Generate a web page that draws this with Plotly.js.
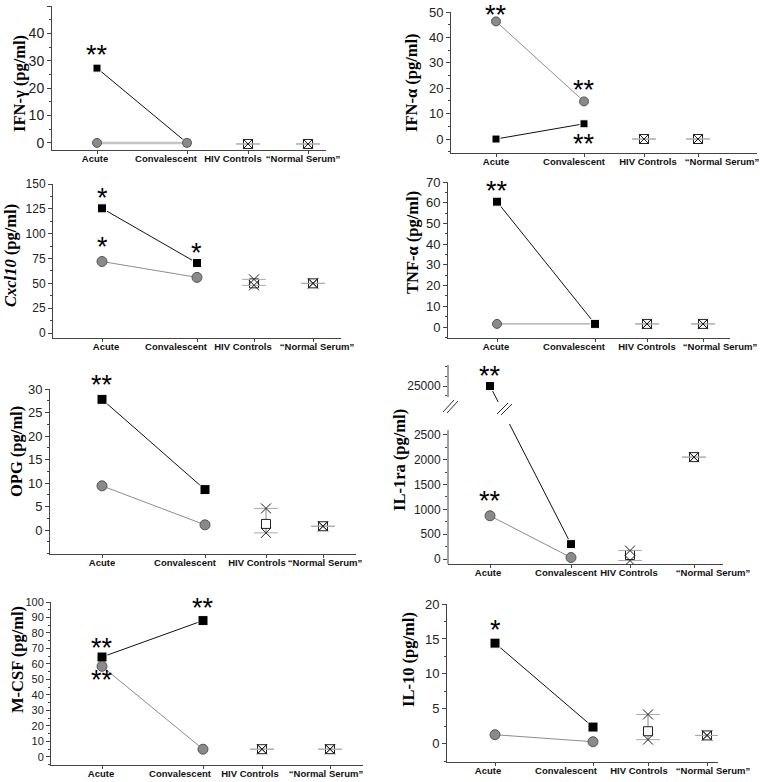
<!DOCTYPE html>
<html><head><meta charset="utf-8">
<script src="https://cdn.plot.ly/plotly-3.0.1.min.js"></script>
<style>html,body{margin:0;padding:0;background:#fff}#chart{width:760px;height:782px}</style>
</head><body><div id="chart"></div>
<script>
// ---------------- DATA ----------------
const categories = ['Acute', 'Convalescent', 'HIV Controls', '\u201cNormal Serum\u201d'];
const yTitles = ['IFN-\u03b3 (pg/ml)', 'IFN-\u03b1 (pg/ml)', '<i>Cxcl10</i> (pg/ml)', 'TNF-\u03b1 (pg/ml)',
                 'OPG (pg/ml)', 'IL-1ra (pg/ml)', 'M-CSF (pg/ml)', 'IL-10 (pg/ml)'];
// black squares: [Acute, Convalescent]
const squareVals = [[27.3, 0], [0, 6], [125.5, 70.5], [60.5, 1.5], [27.8, 8.6], [25000, 300], [64.5, 88], [14.4, 2.4]];
// grey circles: [Acute, Convalescent]
const circleVals = [[0, 0], [46.3, 14.8], [72, 56], [1.5, 1.5], [9.4, 1.1], [870, 30], [58.5, 5], [1.3, 0.3]];
// HIV controls: mean, high, low
const hivMean = [-0.4, 0, 50, 1.5, 1.3, 80, 5, 1.8];
const hivHigh = [-0.4, 0, 54, 1.5, 4.6, 170, 5, 4.2];
const hivLow  = [-0.4, 0, 48, 1.5, -0.6, -30, 5, 0.6];
// "Normal Serum"
const nsMean  = [-0.4, 0, 50, 1.5, 0.8, 2050, 5, 1.2];
// significance marks: [category index, y value, text]
const stars = [
  [[0, 33.2, '**']],
  [[0, 50.0, '**'], [1, 20.5, '**'], [1, -0.6, '**']],
  [[0, 139, '*'], [0, 90, '*'], [1, 84, '*']],
  [[0, 67, '**']],
  [[0, 31.5, '**']],
  [[0, 26300, '**'], [0, 1227, '**']],
  [[0, 72.3, '**'], [0, 51.6, '**'], [1, 98, '**']],
  [[0, 16.7, '*']]
];

// ---------------- LAYOUT CONFIG ----------------
const W = 760, H = 782;
const P = [
 {x:[52,326],  y:[6,150],   yr:[-2.6,50],  step:10,  top:50,  catX:[97,187,248,308],  labX:[95,166,233,303],  ms:[8,9],  tf:14, title:[20,84]},
 {x:[451,757], y:[12,153],  yr:[-5.5,50],  step:10,  top:50,  catX:[496,584,644,698], labX:[496,574,648,722], ms:[8,9],  tf:13, title:[411,82]},
 {x:[53,341],  y:[184,338], yr:[-5,150],   step:25,  top:150, catX:[102,197,254,313], labX:[106,176,243,317], ms:[9,10], tf:12, title:[10,256]},
 {x:[448,730], y:[182,338], yr:[-5.3,70],  step:10,  top:70,  catX:[497,595,647,703], labX:[496,574,647,720], ms:[9,9],  tf:13, title:[412,243], squareTop:true},
 {x:[50,356],  y:[389,554], yr:[-5.1,30],  step:5,   top:30,  catX:[102,205,266,323], labX:[102,185,257,325], ms:[10,10],tf:13, title:[17,452]},
 {x:[448,723], y:[365,564], yr:[-100,3903],step:500, top:2500,catX:[490,571,630,694], labX:[488,566,629,713], ms:[9,10], tf:12, title:[399,460], broken:true},
 {x:[51,363],  y:[602,765], yr:[-5.2,100], step:10,  top:100, catX:[102,203,262,330], labX:[101,180,250,326], ms:[10,10],tf:11, title:[17,660]},
 {x:[447,718], y:[604,762], yr:[-2.6,20],  step:5,   top:20,  catX:[495,593,648,707], labX:[488,566,639,713], ms:[10,10],tf:13, title:[408,660]}
];
// broken-axis transform for IL-1ra
const BRK = {limit: 2800, center: 25000, at: 3480, k: 0.2};
function tr(p, v) { if (!P[p].broken || v <= BRK.limit) return v; return BRK.at + (v - BRK.center) * BRK.k; }
const px2x = v => v / W, px2y = v => 1 - v / H;

const traces = [], annotations = [], shapes = [];
const layout = {width: W, height: H, margin: {l:0, r:0, t:0, b:0}, showlegend: false,
  paper_bgcolor: '#fff', plot_bgcolor: 'rgba(0,0,0,0)', font: {family: 'Liberation Sans, Arial, sans-serif', color: '#111'}};
const AX = '#444';

P.forEach((c, i) => {
  const n = i + 1, xa = 'x' + n, ya = 'y' + n;
  const xk = 'xaxis' + n, yk = 'yaxis' + n;
  const cx = c.catX;
  const xd = [c.x[0] / W, c.x[1] / W], yd = [1 - c.y[1] / H, 1 - c.y[0] / H];
  layout[xk] = {domain: xd, range: c.x, anchor: ya, showgrid: false, zeroline: false,
    showline: true, linecolor: AX, linewidth: 1, tickmode: 'array', tickvals: c.labX, ticktext: categories, ticks: '',
    tickangle: 0, tickfont: {size: 9.5, weight: 'bold', color: '#111', family: 'Liberation Sans, Arial, sans-serif'},
    minor: {tickmode: 'array', tickvals: cx, ticks: 'outside', ticklen: 3, tickcolor: AX}, fixedrange: true};
  let tv = [], tt = [];
  for (let v = 0; v <= c.top + 1e-9; v += c.step) { tv.push(v); tt.push(String(v)); }
  let minor = {dtick: c.step / 2, tick0: 0, ticks: 'outside', ticklen: 2, tickcolor: AX};
  if (c.broken) {
    tv.push(tr(i, BRK.center)); tt.push(String(BRK.center));
    const mv = [];
    for (let v = c.step / 2; v < c.top; v += c.step) mv.push(v);
    [24000, 26000, 27000].forEach(v => mv.push(tr(i, v)));
    minor = {tickmode: 'array', tickvals: mv, ticks: 'outside', ticklen: 2, tickcolor: AX};
  }
  layout[yk] = {domain: yd, range: c.yr, anchor: xa, showgrid: false, zeroline: false,
    showline: !c.broken, linecolor: AX, linewidth: 1, tickmode: 'array', tickvals: tv, ticktext: tt,
    ticks: 'outside', ticklen: 4, tickcolor: AX, tickfont: {size: c.tf, color: '#222'}, minor: minor, fixedrange: true};

  const sq = {x: [cx[0], cx[1]], y: squareVals[i].map(v => tr(i, v)), xaxis: xa, yaxis: ya, mode: 'lines+markers',
    line: {color: '#111', width: 1}, marker: {symbol: 'square', size: c.ms[0], color: '#000', line: {color: '#fff', width: 1}},
    hoverinfo: 'skip'};
  const ci = {x: [cx[0], cx[1]], y: circleVals[i].map(v => tr(i, v)), xaxis: xa, yaxis: ya, mode: 'lines+markers',
    line: i === 0 ? {color: '#c4c4c4', width: 2.5} : {color: '#8c8c8c', width: 1},
    marker: {symbol: 'circle', size: c.ms[1], color: '#8a8a8a', line: {color: '#555', width: 1}}, hoverinfo: 'skip'};
  if (c.squareTop) traces.push(ci, sq); else traces.push(sq, ci);

  // controls
  const ctrlX = [cx[2], cx[3]];
  const mean = [hivMean[i], nsMean[i]].map(v => tr(i, v));
  const hi = [hivHigh[i], nsMean[i]].map(v => tr(i, v));
  const lo = [hivLow[i], nsMean[i]].map(v => tr(i, v));
  traces.push({x: [ctrlX[0], ctrlX[0]], y: [hi[0], lo[0]], xaxis: xa, yaxis: ya, mode: 'lines',
    line: {color: '#888', width: 1}, hoverinfo: 'skip'});
  traces.push({x: ctrlX, y: mean, xaxis: xa, yaxis: ya, mode: 'markers',
    marker: {symbol: 'square', size: 9, color: '#fff', line: {color: '#222', width: 1}}, hoverinfo: 'skip'});
  const ex = [ctrlX[0], ctrlX[0], ctrlX[1], ctrlX[1]], ey = [hi[0], lo[0], hi[1], lo[1]];
  traces.push({x: ex, y: ey, xaxis: xa, yaxis: ya, mode: 'markers',
    marker: {symbol: 'line-ew-open', size: 17, color: '#aaa', line: {color: '#aaa', width: 1}}, hoverinfo: 'skip'});
  traces.push({x: ex, y: ey, xaxis: xa, yaxis: ya, mode: 'markers',
    marker: {symbol: 'x-thin-open', size: 10, color: '#222', line: {color: '#222', width: 1}}, hoverinfo: 'skip'});

  // significance marks, positioned through the panel's axis scale
  const toPX = v => xd[0] + (v - c.x[0]) / (c.x[1] - c.x[0]) * (xd[1] - xd[0]);
  const toPY = v => yd[0] + (v - c.yr[0]) / (c.yr[1] - c.yr[0]) * (yd[1] - yd[0]);
  stars[i].forEach(s => annotations.push({x: toPX(cx[s[0]]), y: toPY(tr(i, s[1])), xref: 'paper', yref: 'paper', text: s[2],
    showarrow: false, xanchor: 'center', yanchor: 'middle', height: 18, valign: 'top', yshift: 3,
    font: {size: 27, family: 'Liberation Sans, Arial, sans-serif', color: '#000'}}));
  annotations.push({x: px2x(c.title[0]), y: px2y(c.title[1]), xref: 'paper', yref: 'paper', text: yTitles[i], showarrow: false,
    textangle: -90, xanchor: 'center', yanchor: 'middle',
    font: {size: 16.5, family: 'Liberation Serif, Times New Roman, serif', weight: 'bold', color: '#000'}});

  if (c.broken) {
    const xp = px2x(c.x[0]);
    shapes.push({type: 'line', xref: 'paper', yref: 'paper', x0: xp, x1: xp, y0: px2y(564), y1: px2y(430), line: {color: AX, width: 1}});
    shapes.push({type: 'line', xref: 'paper', yref: 'paper', x0: xp, x1: xp, y0: px2y(397), y1: px2y(365), line: {color: AX, width: 1}});
    shapes.push({type: 'rect', xref: 'paper', yref: 'paper', x0: px2x(485), x1: px2x(525), y0: px2y(424), y1: px2y(402),
      fillcolor: '#fff', line: {width: 0}, layer: 'above'});
    [[443,412,454,400],[447,413,458,401],[497,414,508,403],[501,415,512,404]].forEach(l =>
      shapes.push({type: 'line', xref: 'paper', yref: 'paper', x0: px2x(l[0]), y0: px2y(l[1]), x1: px2x(l[2]), y1: px2y(l[3]),
        line: {color: '#333', width: 1}, layer: 'above'}));
  }
});
layout.annotations = annotations;
layout.shapes = shapes;
Plotly.newPlot('chart', traces, layout, {staticPlot: true, displayModeBar: false});
</script>
</body></html>
